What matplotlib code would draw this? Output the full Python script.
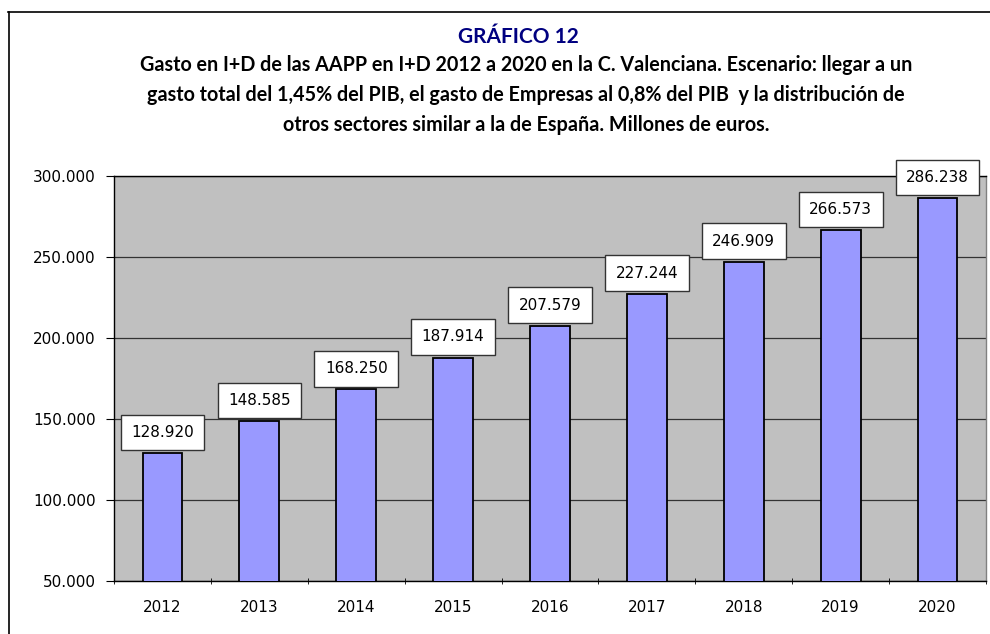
import matplotlib
matplotlib.use("Agg")
import matplotlib.pyplot as plt
from matplotlib.lines import Line2D
import numpy as np

years = ["2012", "2013", "2014", "2015", "2016", "2017", "2018", "2019", "2020"]
values = [128920, 148585, 168250, 187914, 207579, 227244, 246909, 266573, 286238]
labels = ["128.920", "148.585", "168.250", "187.914", "207.579", "227.244", "246.909", "266.573", "286.238"]
yticks = [50000, 100000, 150000, 200000, 250000, 300000]
ytick_labels = ["50.000", "100.000", "150.000", "200.000", "250.000", "300.000"]

W, H = 990, 634
fig = plt.figure(figsize=(W / 100, H / 100), dpi=100)
fig.patch.set_facecolor("white")

# outer border (top and left edges only visible)
fig.add_artist(Line2D([8 / W, 1.0], [1 - 11.5 / H, 1 - 11.5 / H], transform=fig.transFigure,
                      color="black", linewidth=1.2))
fig.add_artist(Line2D([8.5 / W, 8.5 / W], [0, 1 - 11.5 / H], transform=fig.transFigure,
                      color="black", linewidth=1.2))

left, right, top, bottom = 114, 986, 176, 581
ax = fig.add_axes([left / W, 1 - bottom / H, (right - left) / W, (bottom - top) / H])
ax.set_facecolor("#C0C0C0")

x = np.arange(len(years))
ax.bar(x, values, width=0.41, color="#9999FF", edgecolor="black", linewidth=1.3, zorder=3)
ax.set_xlim(-0.5, len(years) - 0.5)
ax.set_ylim(50000, 300000)
ax.set_yticks(yticks)
ax.set_yticklabels(ytick_labels, fontsize=11, family="DejaVu Sans")
ax.yaxis.grid(True, color="#333333", linewidth=0.9, zorder=1)
ax.set_axisbelow(True)

ax.set_xticks(x)
ax.set_xticklabels(years, fontsize=11, family="DejaVu Sans")
ax.set_xticks(np.arange(-0.5, len(years)), minor=True)
ax.tick_params(axis="x", which="major", length=0, pad=14)
ax.tick_params(axis="x", which="minor", length=5, direction="inout", color="black")
ax.tick_params(axis="y", length=6, direction="out", pad=7)
for s in ax.spines.values():
    s.set_color("black")
    s.set_linewidth(1.0)
ax.spines["right"].set_color("#808080")

for xi, v, lab in zip(x, values, labels):
    ax.annotate(lab, xy=(xi, v), xytext=(0, 9.5), textcoords="offset points",
                ha="center", va="bottom", fontsize=11, family="DejaVu Sans", zorder=5,
                bbox=dict(boxstyle="square,pad=0.68", facecolor="white", edgecolor="#333333", linewidth=1.0))

fig.text(518 / W, 1 - 37 / H, "GRÁFICO 12", ha="center", va="center",
         fontsize=15, fontweight="bold", color="#000080", family="Lato")
title = ("Gasto en I+D de las AAPP en I+D 2012 a 2020 en la C. Valenciana. Escenario: llegar a un\n"
         "gasto total del 1,45% del PIB, el gasto de Empresas al 0,8% del PIB  y la distribución de\n"
         "otros sectores similar a la de España. Millones de euros.")
fig.text(526 / W, 1 - 95 / H, title, ha="center", va="center", fontsize=14.2,
         fontweight="bold", color="black", family="Lato", linespacing=1.6)

fig.savefig("out.png", dpi=100)
